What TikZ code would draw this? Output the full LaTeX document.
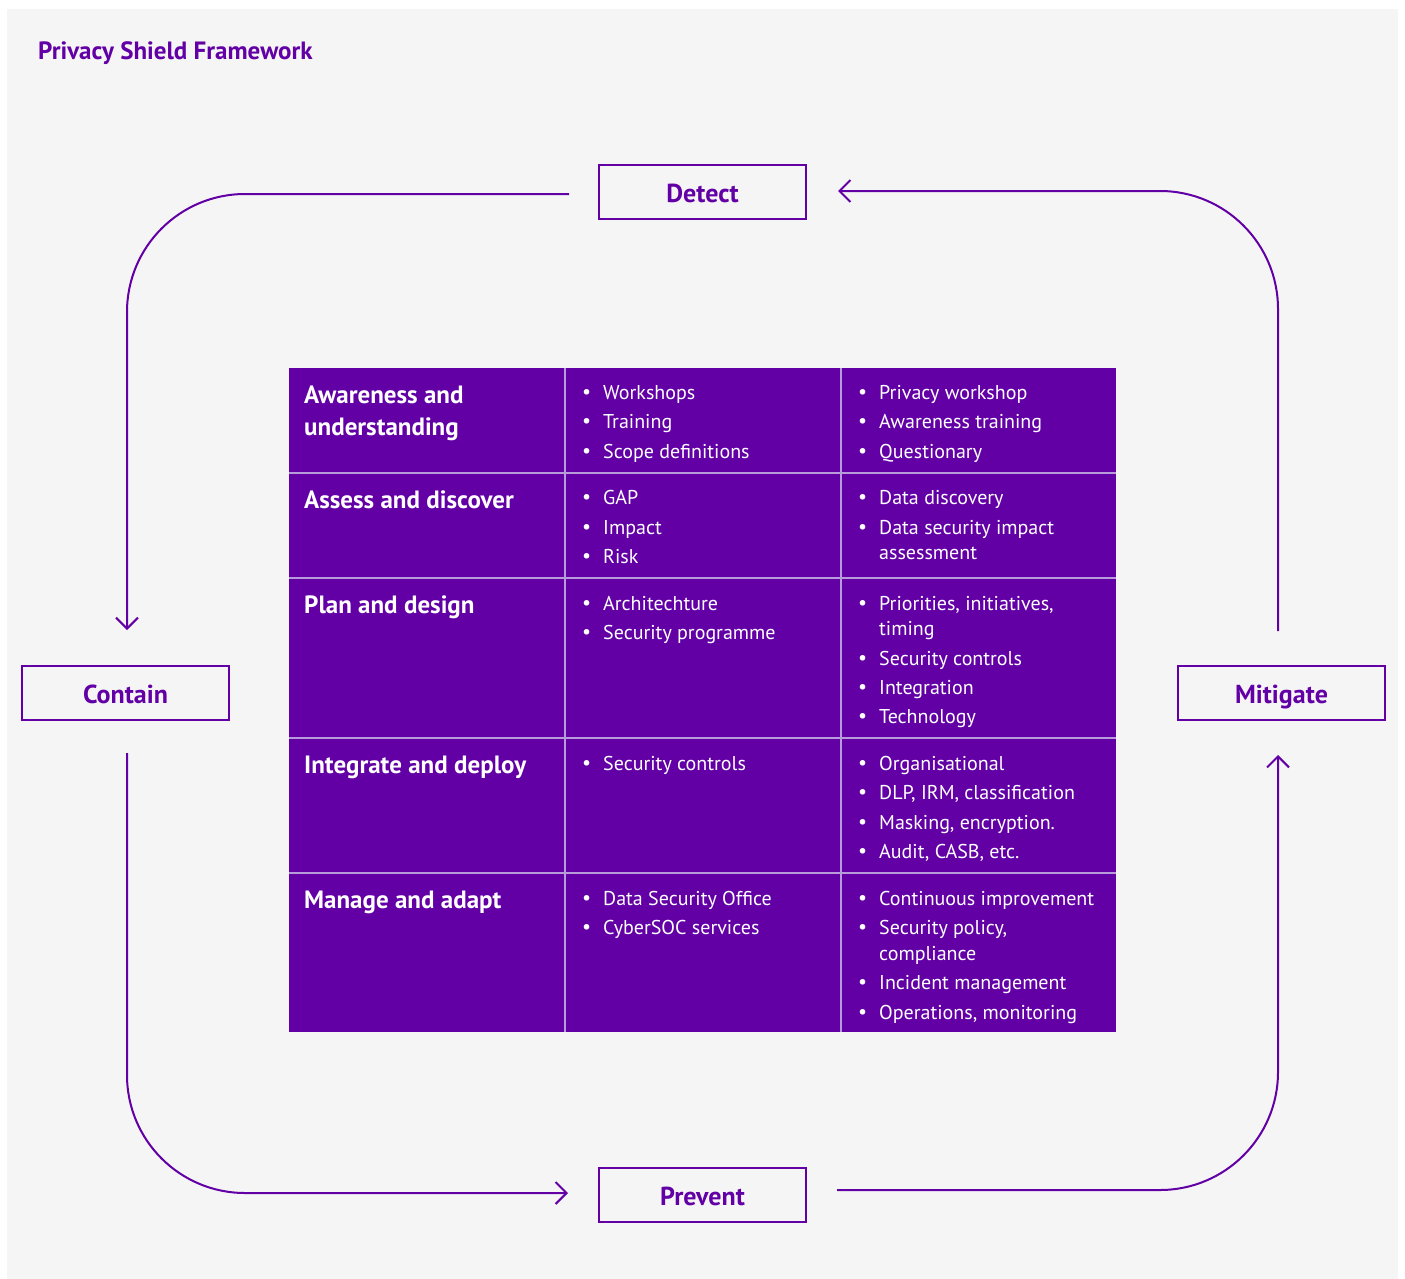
\documentclass[tikz,border=0pt]{standalone}
\usepackage{fontspec}
\setmainfont{PT Sans}
\usetikzlibrary{arrows.meta}
\definecolor{pur}{HTML}{6200A6}
\definecolor{bgc}{HTML}{F5F5F5}
\definecolor{gridc}{HTML}{B79BDB}
\newcommand{\Bu}{\llap{\raisebox{1pt}{•}\hspace{12pt}}}
\begin{document}
\begin{tikzpicture}[x=1pt,y=-1pt,
  stagebox/.style={draw=pur, line width=2.5pt, minimum width=207pt, minimum height=54pt, inner sep=0pt, text=pur,
    font=\fontsize{26}{30}\selectfont\bfseries, text height=21.5pt, text depth=0pt},
  flow/.style={draw=pur, line width=2pt, rounded corners=118pt},
  tip/.style={-{Straight Barb[length=11pt,width=22pt]}},
  hd/.style={anchor=base west, inner sep=0pt, text=white, font=\fontsize{25}{30}\selectfont\bfseries},
  it/.style={anchor=base west, inner sep=0pt, text=white, font=\fontsize{20}{25}\selectfont},
  gridline/.style={draw=gridc, line width=1.3pt}]
\useasboundingbox (0,0) rectangle (1405,1279);
\fill[white] (0,0) rectangle (1405,1279);
\fill[bgc] (7,9) rectangle (1398,1279);
\node[anchor=base west, inner sep=0pt, text=pur, font=\fontsize{25}{30}\selectfont\bfseries] (title) at (38,60) {Privacy Shield Framework};
% stage boxes
\node[stagebox] (detect) at (702.5,192) {Detect};
\node[stagebox] (contain) at (125.5,693) {Contain};
\node[stagebox] (mitigate) at (1281.5,693) {Mitigate};
\node[stagebox] (prevent) at (702.5,1195) {Prevent};
% connector end points
\coordinate (tlS) at (569,194);
\coordinate (tlE) at (127,630);
\coordinate (blS) at (127,753);
\coordinate (blE) at (568,1193);
\coordinate (brS) at (837,1190);
\coordinate (brE) at (1278,755);
\coordinate (trS) at (1278,631);
\coordinate (trE) at (838,191);
\draw[flow, tip] (tlS) -| (tlE);
\draw[flow, tip] (blS) |- (blE);
\draw[flow, tip] (brS) -| (brE);
\draw[flow, tip] (trS) |- (trE);
% table
\fill[pur] (289,368) rectangle (1116,1032);
\draw[gridline] (565,368) -- (565,1032);
\draw[gridline] (841,368) -- (841,1032);
\foreach \yy in {473,578,738,873} \draw[gridline] (289,\yy) -- (1116,\yy);
% row headers
\node[hd] (h1a) at (304,403) {Awareness and};
\node[hd] (h1b) at (304,435) {understanding};
\node[hd] (h2) at (304,508) {Assess and discover};
\node[hd] (h3) at (304,613) {Plan and design};
\node[hd] (h4) at (304,773) {Integrate and deploy};
\node[hd] (h5) at (304,908) {Manage and adapt};
% column 2
\node[it] (a1) at (603,399.5) {\Bu Workshops};
\node[it] (a2) at (603,428.5) {\Bu Training};
\node[it] (a3) at (603,458.5) {\Bu Scope definitions};
\node[it] (b1) at (603,504.5) {\Bu GAP};
\node[it] (b2) at (603,534.5) {\Bu Impact};
\node[it] (b3) at (603,563.5) {\Bu Risk};
\node[it] (c1) at (603,610.5) {\Bu Architechture};
\node[it] (c2) at (603,639.5) {\Bu Security programme};
\node[it] (d1) at (603,770.5) {\Bu Security controls};
\node[it] (e1) at (603,905.5) {\Bu Data Security Office};
\node[it] (e2) at (603,934.5) {\Bu CyberSOC services};
% column 3
\node[it] (A1) at (879,399.5) {\Bu Privacy workshop};
\node[it] (A2) at (879,428.5) {\Bu Awareness training};
\node[it] (A3) at (879,458.5) {\Bu Questionary};
\node[it] (B1) at (879,504.5) {\Bu Data discovery};
\node[it] (B2) at (879,534.5) {\Bu Data security impact};
\node[it] (B3) at (879,559.5) {assessment};
\node[it] (C1) at (879,610.5) {\Bu Priorities, initiatives,};
\node[it] (C2) at (879,635.5) {timing};
\node[it] (C3) at (879,665.5) {\Bu Security controls};
\node[it] (C4) at (879,694.5) {\Bu Integration};
\node[it] (C5) at (879,723.5) {\Bu Technology};
\node[it] (D1) at (879,770.5) {\Bu Organisational};
\node[it] (D2) at (879,799.5) {\Bu DLP, IRM, classification};
\node[it] (D3) at (879,829.5) {\Bu Masking, encryption.};
\node[it] (D4) at (879,858.5) {\Bu Audit, CASB, etc.};
\node[it] (E1) at (879,905.5) {\Bu Continuous improvement};
\node[it] (E2) at (879,934.5) {\Bu Security policy,};
\node[it] (E3) at (879,960) {compliance};
\node[it] (E4) at (879,989.5) {\Bu Incident management};
\node[it] (E5) at (879,1019) {\Bu Operations, monitoring};
\end{tikzpicture}
\end{document}
